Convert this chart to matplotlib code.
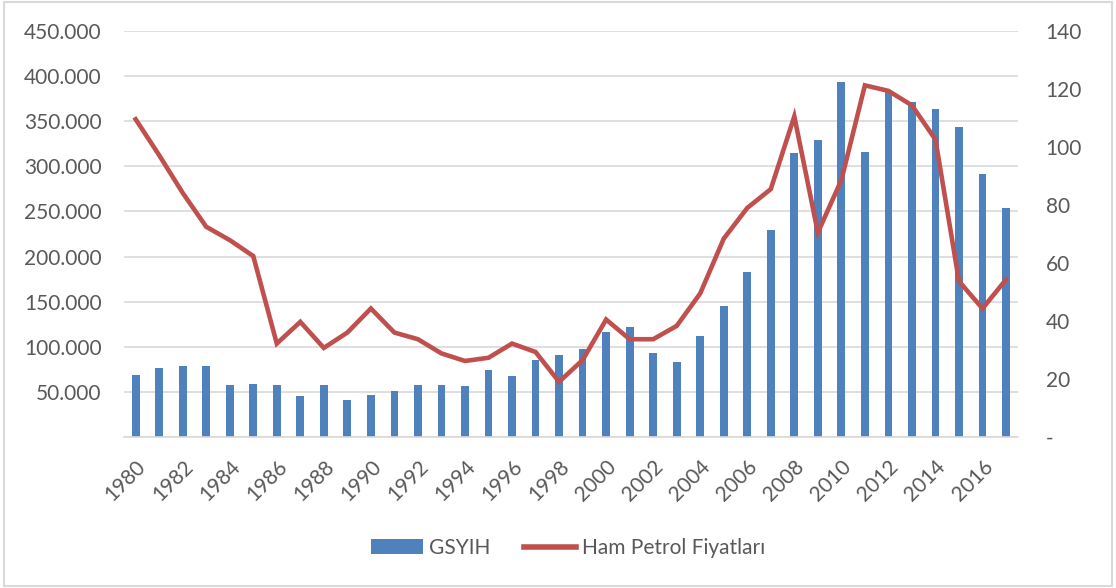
import numpy as np
import matplotlib.pyplot as plt
from matplotlib.patches import Rectangle
from matplotlib.ticker import FuncFormatter

plt.rcParams['font.family'] = ['Lato', 'DejaVu Sans']

years = list(range(1980, 2018))
gsyih = [68.4, 76.9, 78.8, 78.4, 57.3, 59.2, 58.1, 45.9, 58.1, 40.7,
         46.6, 51.4, 58.1, 57.3, 56.2, 74.0, 67.7, 85.1, 90.6, 97.3,
         116.5, 122.0, 92.5, 82.8, 111.7, 145.0, 183.1, 230.0, 315.1, 329.1,
         393.9, 316.2, 383.0, 371.7, 363.2, 344.0, 291.4, 254.4]
petrol = [109.6, 97.2, 84.2, 72.5, 67.9, 62.4, 32.2, 39.7, 30.7, 36.0,
          44.3, 36.0, 33.7, 28.8, 26.2, 27.3, 32.2, 29.3, 19.0, 26.5,
          40.5, 33.7, 33.7, 38.3, 49.5, 68.4, 79.0, 85.5, 110.6, 70.5,
          88.6, 121.3, 119.4, 114.4, 102.6, 53.7, 44.3, 54.3]
tick_years = years[::2]

blue = '#4f81bd'
red = '#c0504d'
grey_txt = '#595959'
grid_c = '#d9d9d9'

fig = plt.figure(figsize=(11.16, 5.88), dpi=100)
ax = fig.add_axes([0.111, 0.257, 0.801, 0.690])
ax2 = ax.twinx()

x = np.arange(len(years))
ax.bar(x, gsyih, width=0.33, color=blue, zorder=2, label='GSYIH')
ax2.plot(x, petrol, color=red, lw=3.3, solid_joinstyle='miter', zorder=3,
         label='Ham Petrol Fiyatları')

ax.set_xlim(-0.5, len(years) - 0.5)
ax.set_ylim(0, 450)
ax2.set_ylim(0, 140)
ax.set_yticks(np.arange(0, 451, 50))
ax2.set_yticks(np.arange(0, 141, 20))
ax.yaxis.set_major_formatter(FuncFormatter(lambda v, p: '' if v == 0 else f'{int(v)}.000'))
ax2.yaxis.set_major_formatter(FuncFormatter(lambda v, p: '-' if v == 0 else f'{int(v)}'))

ax.grid(axis='y', color=grid_c, lw=1.2, zorder=0)
ax.set_axisbelow(True)
for a in (ax, ax2):
    for s in a.spines.values():
        s.set_visible(False)
    a.tick_params(length=0, colors=grey_txt, labelsize=15)
ax.spines['bottom'].set_visible(True)
ax.spines['bottom'].set_color(grid_c)
ax.spines['bottom'].set_linewidth(1.2)
ax.tick_params(axis='y', pad=16)
ax2.tick_params(axis='y', pad=20)

ax.set_xticks([years.index(y) for y in tick_years])
ax.set_xticklabels([str(y) for y in tick_years], rotation=45, ha='right',
                   rotation_mode='anchor')
ax.tick_params(axis='x', pad=14)

h1, l1 = ax.get_legend_handles_labels()
h2, l2 = ax2.get_legend_handles_labels()
leg = fig.legend(h1 + h2, l1 + l2, loc='center', bbox_to_anchor=(0.509, 0.068), ncol=2,
                 frameon=False, fontsize=15, labelcolor=grey_txt, handlelength=2.5,
                 handletextpad=0.3, columnspacing=1.6)
leg.get_lines()[0].set_linewidth(4)

fig.patches.append(Rectangle((0.004, 0.004), 0.992, 0.992, transform=fig.transFigure,
                             fill=False, edgecolor=grid_c, lw=1.5))

fig.savefig('out.png', dpi=100)
